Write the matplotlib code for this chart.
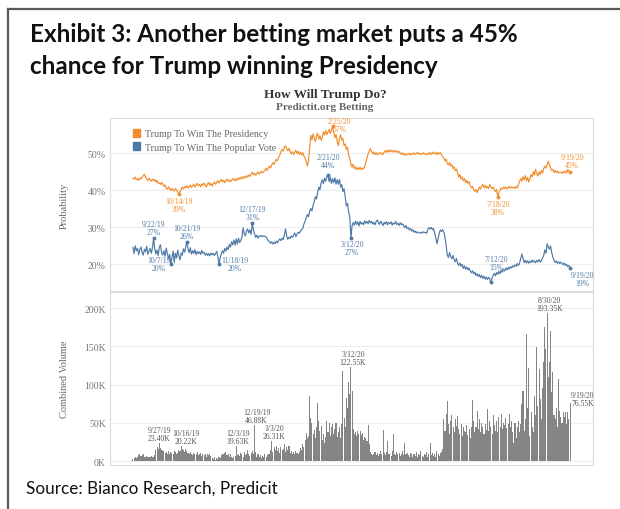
import numpy as np
import pandas as pd
import matplotlib
matplotlib.use("Agg")
import matplotlib.pyplot as plt
from matplotlib.lines import Line2D
from matplotlib.patches import Patch

# Daily PredictIt prices (%) and combined volume (K), 9/4/19 - 9/19/20
start_date = "2019-09-04"
end_date = "2020-09-19"

# Trump To Win The Presidency
pres_sep19 = [43.2, 43.0, 43.5, 42.8, 43.1, 42.6, 43.3, 43.0, 43.6, 43.9, 44.3, 43.5, 43.0, 42.6,
              43.2, 42.8, 42.4, 43.0, 42.5, 42.9, 42.2, 42.6, 41.8, 42.0, 41.5, 42.1, 41.6]
pres_oct19 = [41.0, 41.4, 40.6, 40.2, 40.9, 40.3, 39.8, 40.5, 40.1, 39.7, 40.4, 40.0, 39.5, 38.9,
              39.6, 40.2, 40.8, 40.3, 41.0, 40.6, 41.2, 40.5, 40.9, 41.4, 40.7, 41.1, 41.6, 40.8,
              41.3, 41.8, 41.2]
pres_nov19 = [41.5, 40.9, 41.7, 41.2, 41.9, 41.4, 40.8, 41.6, 42.1, 41.3, 41.8, 41.1, 41.7, 42.2,
              41.6, 42.0, 42.6, 41.9, 42.4, 42.9, 42.2, 42.7, 42.0, 42.5, 43.0, 42.4, 42.8, 42.2,
              42.7, 43.1]
pres_dec19 = [42.6, 43.0, 42.5, 43.2, 42.8, 43.4, 43.0, 43.6, 43.1, 43.7, 43.3, 43.9, 43.5, 44.1,
              43.7, 44.3, 44.8, 44.2, 44.6, 44.0, 44.5, 44.9, 44.3, 44.7, 45.1, 44.6, 45.0, 45.4,
              45.9, 45.3, 46.0]
pres_jan20 = [46.5, 46.0, 46.8, 47.4, 47.0, 47.8, 48.3, 47.9, 48.8, 49.5, 50.4, 51.0, 50.5, 51.6,
              52.0, 51.2, 50.6, 51.3, 50.5, 49.8, 50.4, 49.6, 50.2, 50.8, 49.9, 50.5, 49.7, 50.3,
              49.5, 50.1, 49.2]
pres_feb20 = [48.6, 47.8, 46.5, 47.9, 51.5, 54.8, 53.6, 55.2, 54.0, 53.1, 54.6, 55.4, 53.8, 54.7,
              53.5, 54.2, 55.8, 54.9, 56.1, 55.0, 55.7, 56.4, 55.3, 56.2, 57.3, 55.6, 54.2, 55.0,
              53.2]
pres_mar20 = [52.0, 54.0, 55.0, 53.5, 54.0, 52.0, 52.5, 51.0, 51.6, 49.5, 48.5, 47.0, 46.2, 47.0,
              45.8, 46.3, 45.5, 46.1, 45.6, 46.2, 45.5, 46.0, 45.7, 46.4, 47.5, 48.6, 49.8, 50.6,
              51.2, 50.4, 49.8]
pres_apr20 = [50.3, 49.6, 50.1, 49.5, 49.9, 50.2, 49.7, 50.0, 49.6, 50.3, 50.7, 50.2, 50.8, 50.3,
              50.9, 50.4, 50.7, 50.2, 50.8, 50.3, 50.6, 50.1, 50.5, 50.0, 49.6, 50.1, 49.5, 49.9,
              49.4, 49.8]
pres_may20 = [49.6, 50.0, 49.5, 49.9, 49.7, 50.1, 49.6, 49.9, 50.2, 49.7, 50.0, 49.6, 49.8, 50.1,
              49.7, 49.9, 49.5, 50.0, 49.7, 50.2, 49.6, 49.9, 50.3, 49.8, 50.1, 49.6, 50.2, 49.8,
              50.1, 49.5, 49.0]
pres_jun20 = [48.6, 47.9, 48.4, 47.2, 46.8, 47.5, 46.5, 46.9, 45.8, 46.3, 45.2, 45.7, 44.6, 43.5,
              44.2, 43.0, 43.6, 42.5, 43.1, 42.0, 42.6, 41.8, 42.3, 41.2, 40.6, 41.0, 40.1, 39.6,
              40.2, 39.3]
pres_jul20 = [40.0, 40.8, 40.3, 41.2, 41.6, 40.7, 41.3, 40.5, 41.0, 40.4, 41.5, 40.9, 40.3, 40.8,
              40.1, 39.6, 40.2, 38.0, 39.4, 40.0, 40.6, 40.2, 40.8, 40.4, 40.9, 40.3, 40.7, 41.0,
              40.5, 40.9, 40.6]
pres_aug20 = [40.8, 40.4, 41.0, 40.6, 41.5, 42.3, 43.1, 42.4, 43.6, 42.8, 43.9, 42.5, 43.4, 42.2,
              43.0, 44.2, 43.6, 45.0, 44.1, 45.6, 44.4, 43.8, 44.9, 44.2, 45.3, 44.6, 45.8, 46.5,
              45.9, 46.8, 47.8]
pres_sep20 = [46.9, 46.0, 45.3, 45.6, 44.8, 45.3, 44.7, 45.1, 44.6, 44.9, 44.8, 44.5, 45.0, 44.7,
              45.2, 44.6, 45.6, 45.1, 45.0]

# Trump To Win The Popular Vote
pop_sep19 = [24.5, 22.8, 24.9, 23.6, 24.2, 22.5, 23.9, 24.6, 23.1, 22.4, 24.0, 23.3, 24.8, 22.6,
             23.5, 24.2, 22.9, 24.4, 27.0, 24.1, 22.7, 23.8, 22.3, 24.6, 25.2, 23.0, 22.4]
pop_oct19 = [23.6, 22.1, 24.3, 22.8, 21.4, 22.6, 20.0, 21.8, 23.5, 20.4, 22.9, 21.6, 23.8, 22.2,
             21.1, 23.0, 22.4, 24.1, 23.2, 24.6, 26.0, 24.0, 23.1, 24.4, 22.7, 23.6, 22.9, 23.9,
             22.5, 23.4, 22.8]
pop_nov19 = [23.3, 22.6, 23.7, 22.9, 23.2, 22.4, 22.9, 22.3, 22.8, 22.2, 23.0, 22.5, 22.9, 22.3,
             22.8, 23.4, 22.1, 20.0, 21.6, 22.8, 23.6, 22.9, 24.2, 23.5, 24.6, 23.9, 25.3, 24.6,
             26.0, 25.2]
pop_dec19 = [26.5, 25.1, 26.8, 25.4, 27.0, 25.8, 26.4, 27.2, 29.8, 28.2, 27.6, 28.9, 29.5, 28.4,
             29.2, 28.0, 31.0, 29.3, 28.1, 27.2, 27.8, 27.0, 27.6, 27.5, 27.7, 27.4, 27.6, 27.5,
             27.3, 26.8, 26.2]
pop_jan20 = [26.1, 25.6, 26.0, 25.4, 25.9, 25.5, 26.2, 25.7, 26.4, 26.8, 26.3, 27.0, 26.6, 27.9,
             29.5, 27.6, 26.7, 27.3, 26.9, 27.6, 27.2, 27.8, 28.4, 27.4, 28.1, 28.6, 28.3, 28.9,
             29.3, 29.6, 30.8]
pop_feb20 = [31.5, 32.6, 33.4, 32.8, 34.2, 35.0, 34.4, 35.8, 36.9, 38.2, 37.6, 39.4, 40.8, 40.1,
             41.9, 42.8, 41.7, 43.2, 42.4, 43.6, 44.0, 42.3, 43.5, 41.8, 43.1, 42.0, 43.3, 41.6,
             42.8]
pop_mar20 = [41.6, 42.9, 40.8, 41.5, 39.6, 40.4, 38.2, 35.7, 36.4, 34.2, 32.7, 27.0, 30.4, 31.2,
             30.5, 31.6, 30.7, 31.4, 30.3, 31.5, 30.8, 31.2, 30.6, 31.7, 31.0, 31.5, 30.9, 31.8,
             31.1, 31.5, 30.8]
pop_apr20 = [31.3, 30.6, 31.5, 31.9, 31.2, 30.7, 31.6, 31.0, 30.4, 31.3, 30.8, 31.5, 30.6, 31.2,
             30.9, 31.4, 30.5, 31.1, 30.8, 31.5, 30.7, 31.0, 30.4, 31.2, 30.6, 30.9, 30.3, 29.8,
             30.4, 29.6]
pop_may20 = [29.9, 29.2, 29.6, 28.9, 29.3, 28.6, 28.9, 28.4, 28.7, 28.5, 28.3, 28.6, 28.4, 28.7,
             28.5, 28.6, 28.3, 29.4, 29.8, 29.5, 29.9, 29.3, 29.6, 28.4, 27.1, 25.5, 26.8, 28.4,
             29.2, 28.8, 29.3]
pop_jun20 = [28.6, 27.2, 25.0, 22.4, 21.8, 23.1, 22.0, 21.4, 22.3, 21.2, 20.6, 21.5, 20.2, 19.6,
             20.3, 19.4, 19.9, 18.8, 19.5, 18.6, 19.2, 18.4, 18.9, 18.1, 17.6, 18.2, 17.3, 17.8,
             16.9, 17.4]
pop_jul20 = [16.6, 17.2, 16.3, 16.9, 16.1, 16.7, 15.9, 16.5, 15.8, 16.4, 16.0, 15.0, 16.3, 16.9,
             17.5, 16.8, 17.7, 17.2, 18.0, 17.4, 18.3, 17.8, 18.6, 18.1, 18.9, 18.4, 19.1, 18.6,
             19.3, 18.9, 19.5]
pop_aug20 = [19.2, 19.8, 19.4, 20.1, 19.6, 20.3, 21.4, 22.7, 21.5, 20.4, 21.0, 20.3, 20.9, 20.2,
             20.8, 20.4, 21.1, 20.5, 20.9, 20.3, 21.0, 20.6, 21.2, 20.5, 20.9, 21.6, 22.3, 23.8,
             22.9, 25.5, 24.6]
pop_sep20 = [24.0, 24.9, 23.1, 21.9, 21.0, 20.4, 20.8, 20.2, 20.6, 20.1, 20.5, 20.2, 19.8, 20.3,
             19.6, 19.9, 19.3, 19.6, 19.0]

# Combined volume, thousands of shares
vol_sep19 = [3, 4, 5, 4, 6, 8, 9, 7, 8, 9, 6, 5, 7, 6, 5, 6, 7, 6, 5, 8, 14, 18, 16, 23.40, 17, 15, 14]
vol_oct19 = [13, 11, 12, 10, 13, 9, 12, 11, 10, 13, 12, 9, 11, 15, 13, 20.22, 16, 14, 12, 16, 13, 11,
             9, 12, 10, 8, 11, 9, 10, 12, 8]
vol_nov19 = [9, 11, 7, 10, 8, 10, 6, 9, 8, 10, 7, 4, 3, 5, 2, 4, 3, 6, 4, 8, 10, 9, 11, 12, 8, 10, 6,
             9, 5, 4]
vol_dec19 = [5, 7, 19.63, 8, 10, 7, 11, 9, 6, 12, 8, 10, 15, 9, 7, 11, 13, 9, 46.88, 12, 6, 9, 5, 8,
             4, 7, 6, 9, 5, 8, 10]
vol_jan20 = [9, 14, 26.31, 12, 18, 15, 20, 13, 17, 11, 19, 14, 16, 22, 12, 18, 15, 20, 11, 13, 10,
             12, 9, 13, 11, 10, 12, 17, 15, 22, 19]
vol_feb20 = [28, 37, 30, 33, 85, 57, 50, 36, 41, 30, 45, 76, 52, 40, 46, 28, 35, 24, 31, 53, 38, 50,
             33, 44, 48, 36, 42, 50, 31]
vol_mar20 = [38, 45, 30, 48, 118, 57, 45, 83, 70, 103, 88, 122.55, 92, 42, 36, 38, 33, 40, 35, 39,
             34, 37, 28, 31, 30, 26, 47, 22, 12, 10, 8]
vol_apr20 = [9, 12, 8, 11, 7, 10, 13, 9, 41, 11, 8, 12, 27, 10, 9, 7, 13, 35, 10, 8, 12, 9, 11, 7,
             10, 13, 8, 24, 9, 11]
vol_may20 = [8, 6, 11, 9, 5, 10, 7, 12, 6, 9, 8, 13, 7, 5, 10, 8, 12, 6, 9, 24, 8, 11, 7, 10, 6, 13,
             9, 7, 11, 12, 16]
vol_jun20 = [55, 40, 62, 78, 48, 35, 52, 60, 44, 38, 55, 46, 59, 42, 36, 48, 33, 45, 40, 38, 47, 34,
             42, 30, 45, 80, 52, 38, 44, 66]
vol_jul20 = [42, 55, 38, 50, 45, 36, 48, 41, 68, 39, 52, 44, 35, 60, 47, 40, 53, 38, 58, 45, 61, 42,
             50, 47, 56, 43, 49, 61, 44, 52, 38]
vol_aug20 = [24, 50, 30, 45, 53, 38, 48, 75, 92, 40, 55, 166, 70, 122, 33, 64, 45, 38, 85, 60, 149,
             72, 120, 81, 55, 95, 129, 175, 147, 193.35, 110]
vol_sep20 = [130, 170, 90, 116, 60, 55, 70, 45, 107, 65, 58, 50, 64, 58, 64, 48, 64, 55, 76.55]

# labelled points: (date, text)
pres_notes = [("2019-10-14", "10/14/19\n39%"), ("2020-02-25", "2/25/20\n57%"),
              ("2020-07-18", "7/18/20\n38%"), ("2020-09-19", "9/19/20\n45%")]
pop_notes = [("2019-09-22", "9/22/19\n27%"), ("2019-10-07", "10/7/19\n20%"),
             ("2019-10-21", "10/21/19\n26%"), ("2019-11-18", "11/18/19\n20%"),
             ("2019-12-17", "12/17/19\n31%"), ("2020-02-21", "2/21/20\n44%"),
             ("2020-03-12", "3/12/20\n27%"), ("2020-07-12", "7/12/20\n15%"),
             ("2020-09-19", "9/19/20\n19%")]
vol_notes = [("2019-09-27", "9/27/19\n23.40K"), ("2019-10-16", "10/16/19\n20.22K"),
             ("2019-12-03", "12/3/19\n19.63K"), ("2019-12-19", "12/19/19\n46.88K"),
             ("2020-01-03", "1/3/20\n26.31K"), ("2020-03-12", "3/12/20\n122.55K"),
             ("2020-08-30", "8/30/20\n193.35K"), ("2020-09-19", "9/19/20\n76.55K")]

# label placement in pixels: (dx, dy, ha, va)
note_pos = {
    "10/14/19\n39%": (0, -3, "center", "top"),
    "2/25/20\n57%": (7, 1, "center", "center"),
    "7/18/20\n38%": (0, -3, "center", "top"),
    "9/19/20\n45%": (2, 3, "center", "bottom"),
    "9/22/19\n27%": (0, 2, "center", "bottom"),
    "10/7/19\n20%": (-12, 0, "center", "center"),
    "10/21/19\n26%": (0, 2, "center", "bottom"),
    "11/18/19\n20%": (16, 0, "center", "center"),
    "12/17/19\n31%": (0, 2, "center", "bottom"),
    "2/21/20\n44%": (0, 6, "center", "bottom"),
    "3/12/20\n27%": (1, -2, "center", "top"),
    "7/12/20\n15%": (5, 11, "center", "bottom"),
    "9/19/20\n19%": (12, -3, "center", "top"),
    "9/27/19\n23.40K": (0, 1, "center", "bottom"),
    "10/16/19\n20.22K": (5, 1, "center", "bottom"),
    "12/3/19\n19.63K": (2, 1, "center", "bottom"),
    "12/19/19\n46.88K": (2, 1, "center", "bottom"),
    "1/3/20\n26.31K": (2, 1, "center", "bottom"),
    "3/12/20\n122.55K": (2, 1, "center", "bottom"),
    "8/30/20\n193.35K": (2, 1, "center", "bottom"),
    "9/19/20\n76.55K": (1, 4, "left", "center"),
}

ORANGE = "#f28e2b"
BLUE = "#4e79a7"
BAR = "#858585"
SERIF = "Liberation Serif"
CALIBRI_LIKE = "Lato"

days = pd.date_range(start_date, end_date, freq="D")
pres = np.concatenate([pres_sep19, pres_oct19, pres_nov19, pres_dec19, pres_jan20, pres_feb20,
                       pres_mar20, pres_apr20, pres_may20, pres_jun20, pres_jul20, pres_aug20,
                       pres_sep20])
pop = np.concatenate([pop_sep19, pop_oct19, pop_nov19, pop_dec19, pop_jan20, pop_feb20,
                      pop_mar20, pop_apr20, pop_may20, pop_jun20, pop_jul20, pop_aug20, pop_sep20])
vol = np.concatenate([vol_sep19, vol_oct19, vol_nov19, vol_dec19, vol_jan20, vol_feb20,
                      vol_mar20, vol_apr20, vol_may20, vol_jun20, vol_jul20, vol_aug20, vol_sep20])
pres_s = pd.Series(pres, index=days)
pop_s = pd.Series(pop, index=days)
vol_s = pd.Series(vol, index=days)

fig = plt.figure(figsize=(6.2, 5.1), dpi=100)
fig.patch.set_facecolor("white")

# page frame
fig.add_artist(Line2D([0.013, 0.013], [0, 0.980], color="#5a5a5a", lw=1.6))
fig.add_artist(Line2D([0.013, 1.0], [0.980, 0.980], color="#5a5a5a", lw=1.6))

fig.text(0.048, 1 - 42 / 510, "Exhibit 3: Another betting market puts a 45%",
         family=CALIBRI_LIKE, weight="bold", fontsize=17.5, va="baseline", color="#111111")
fig.text(0.048, 1 - 74 / 510, "chance for Trump winning Presidency",
         family=CALIBRI_LIKE, weight="bold", fontsize=17.5, va="baseline", color="#111111")
fig.text(0.042, 1 - 494 / 510, "Source: Bianco Research, Predicit",
         family=CALIBRI_LIKE, fontsize=12.3, va="baseline", color="#111111")

fig.text(0.524, 1 - 95 / 510, "How Will Trump Do?", family=SERIF, weight="bold",
         fontsize=9.5, ha="center", va="center", color="#333333")
fig.text(0.524, 1 - 108 / 510, "Predictit.org Betting", family=SERIF, weight="bold",
         fontsize=8, ha="center", va="center", color="#666666")

ax1 = fig.add_axes([110 / 620, 1 - 292 / 510, 483 / 620, 173 / 510])
ax2 = fig.add_axes([110 / 620, 1 - 466 / 510, 483 / 620, 173 / 510])

x0 = days[0] - pd.Timedelta(days=20)
x1 = days[0] + pd.Timedelta(days=401)

for ax in (ax1, ax2):
    ax.set_xlim(x0, x1)
    ax.set_xticks([])
    ax.set_axisbelow(True)
    ax.yaxis.grid(True, color="#eeeeee", lw=0.8)
    for sp in ax.spines.values():
        sp.set_color("#dcdcdc")
        sp.set_linewidth(0.8)
    ax.tick_params(axis="y", length=0, pad=3, labelsize=7, labelcolor="#777777")


def label_point(ax, d, val, txt, col):
    dx, dy, ha, va = note_pos[txt]
    ax.annotate(txt, xy=(pd.Timestamp(d), val), xytext=(dx, dy),
                textcoords="offset pixels", ha=ha, va=va, fontsize=5.5,
                family=SERIF, color=col, linespacing=1.0)


# probability panel
ax1.plot(pres_s.index, pres_s.values, color=ORANGE, lw=0.85)
ax1.plot(pop_s.index, pop_s.values, color=BLUE, lw=0.85)
ax1.set_ylim(12.7, 59.5)
ax1.set_yticks([20, 30, 40, 50])
ax1.set_yticklabels(["20%", "30%", "40%", "50%"], family=SERIF)
ax1.set_ylabel("Probability", family=SERIF, fontsize=7.5, color="#666666")
ax1.yaxis.set_label_coords(-0.085, 0.5)

for series, notes, col in ((pres_s, pres_notes, ORANGE), (pop_s, pop_notes, BLUE)):
    for d, txt in notes:
        val = series[pd.Timestamp(d)]
        ax1.plot(pd.Timestamp(d), val, "o", ms=1.8, color=col)
        label_point(ax1, d, val, txt, col)

leg = ax1.legend(handles=[Patch(color=ORANGE, label="Trump To Win The Presidency"),
                          Patch(color=BLUE, label="Trump To Win The Popular Vote")],
                 loc="upper left", bbox_to_anchor=(0.047, 0.935), frameon=False,
                 borderpad=0, borderaxespad=0, handlelength=0.75, handleheight=0.75,
                 handletextpad=0.45, labelspacing=0.4, prop={"family": SERIF, "size": 7.2})
for t in leg.get_texts():
    t.set_color("#666666")

# volume panel
ax2.bar(vol_s.index, vol_s.values, width=0.92, color=BAR, linewidth=0)
ax2.set_ylim(-5, 221)
ax2.set_yticks([0, 50, 100, 150, 200])
ax2.set_yticklabels(["0K", "50K", "100K", "150K", "200K"], family=SERIF)
ax2.set_ylabel("Combined Volume", family=SERIF, fontsize=7.5, color="#666666")
ax2.yaxis.set_label_coords(-0.085, 0.5)

for d, txt in vol_notes:
    label_point(ax2, d, vol_s[pd.Timestamp(d)], txt, "#555555")

fig.savefig("out.png", dpi=100, facecolor="white")
